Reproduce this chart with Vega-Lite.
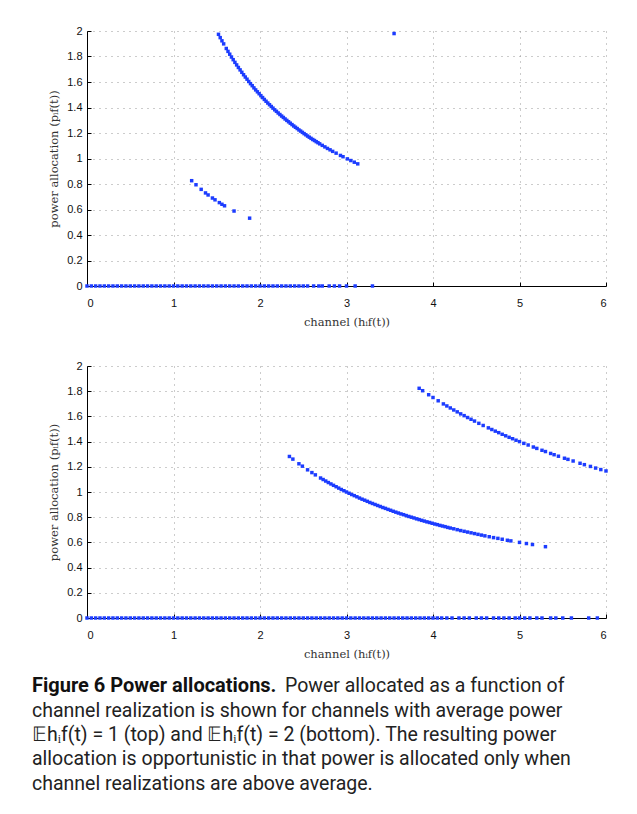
{
  "$schema": "https://vega.github.io/schema/vega-lite/v6.json",
  "description": "Power allocation as a function of channel realization, two panels with caption.",
  "padding": {"top": 25, "left": 32, "right": 5, "bottom": 5},
  "background": "white",
  "spacing": 14,
  "config": {
    "view": {"stroke": null},
    "axis": {
      "domainColor": "#000",
      "domainWidth": 1,
      "gridColor": "#999",
      "gridDash": [1, 5],
      "gridWidth": 1,
      "tickColor": "#000",
      "tickSize": -4,
      "labelFont": "Liberation Sans",
      "labelFontSize": 11,
      "labelColor": "#111",
      "titleFont": "DejaVu Serif",
      "titleFontSize": 11.5,
      "titleFontWeight": "normal",
      "titleColor": "#333"
    }
  },
  "datasets": {
    "points": [
      {"panel": "top", "h": 0, "p": 0}, {"panel": "top", "h": 0.05, "p": 0}, {"panel": "top", "h": 0.1, "p": 0}, {"panel": "top", "h": 0.15, "p": 0},
      {"panel": "top", "h": 0.2, "p": 0}, {"panel": "top", "h": 0.25, "p": 0}, {"panel": "top", "h": 0.3, "p": 0}, {"panel": "top", "h": 0.35, "p": 0},
      {"panel": "top", "h": 0.4, "p": 0}, {"panel": "top", "h": 0.45, "p": 0}, {"panel": "top", "h": 0.5, "p": 0}, {"panel": "top", "h": 0.55, "p": 0},
      {"panel": "top", "h": 0.6, "p": 0}, {"panel": "top", "h": 0.65, "p": 0}, {"panel": "top", "h": 0.7, "p": 0}, {"panel": "top", "h": 0.75, "p": 0},
      {"panel": "top", "h": 0.8, "p": 0}, {"panel": "top", "h": 0.85, "p": 0}, {"panel": "top", "h": 0.9, "p": 0}, {"panel": "top", "h": 0.95, "p": 0},
      {"panel": "top", "h": 1.0, "p": 0}, {"panel": "top", "h": 1.05, "p": 0}, {"panel": "top", "h": 1.1, "p": 0}, {"panel": "top", "h": 1.15, "p": 0},
      {"panel": "top", "h": 1.2, "p": 0}, {"panel": "top", "h": 1.25, "p": 0}, {"panel": "top", "h": 1.3, "p": 0}, {"panel": "top", "h": 1.35, "p": 0},
      {"panel": "top", "h": 1.4, "p": 0}, {"panel": "top", "h": 1.45, "p": 0}, {"panel": "top", "h": 1.5, "p": 0}, {"panel": "top", "h": 1.55, "p": 0},
      {"panel": "top", "h": 1.6, "p": 0}, {"panel": "top", "h": 1.65, "p": 0}, {"panel": "top", "h": 1.7, "p": 0}, {"panel": "top", "h": 1.75, "p": 0},
      {"panel": "top", "h": 1.8, "p": 0}, {"panel": "top", "h": 1.85, "p": 0}, {"panel": "top", "h": 1.9, "p": 0}, {"panel": "top", "h": 1.95, "p": 0},
      {"panel": "top", "h": 2.0, "p": 0}, {"panel": "top", "h": 2.05, "p": 0}, {"panel": "top", "h": 2.1, "p": 0}, {"panel": "top", "h": 2.15, "p": 0},
      {"panel": "top", "h": 2.2, "p": 0}, {"panel": "top", "h": 2.25, "p": 0}, {"panel": "top", "h": 2.3, "p": 0}, {"panel": "top", "h": 2.35, "p": 0},
      {"panel": "top", "h": 2.4, "p": 0}, {"panel": "top", "h": 2.45, "p": 0}, {"panel": "top", "h": 2.5, "p": 0}, {"panel": "top", "h": 2.55, "p": 0},
      {"panel": "top", "h": 2.62, "p": 0}, {"panel": "top", "h": 2.68, "p": 0}, {"panel": "top", "h": 2.72, "p": 0}, {"panel": "top", "h": 2.8, "p": 0},
      {"panel": "top", "h": 2.86, "p": 0}, {"panel": "top", "h": 2.92, "p": 0}, {"panel": "top", "h": 3.0, "p": 0}, {"panel": "top", "h": 3.1, "p": 0},
      {"panel": "top", "h": 3.3, "p": 0},
      {"panel": "top", "h": 1.52, "p": 1.974}, {"panel": "top", "h": 1.54, "p": 1.948}, {"panel": "top", "h": 1.56, "p": 1.923}, {"panel": "top", "h": 1.58, "p": 1.899},
      {"panel": "top", "h": 1.61, "p": 1.863}, {"panel": "top", "h": 1.63, "p": 1.840}, {"panel": "top", "h": 1.65, "p": 1.818}, {"panel": "top", "h": 1.67, "p": 1.796},
      {"panel": "top", "h": 1.69, "p": 1.775}, {"panel": "top", "h": 1.71, "p": 1.754}, {"panel": "top", "h": 1.73, "p": 1.734}, {"panel": "top", "h": 1.75, "p": 1.714},
      {"panel": "top", "h": 1.77, "p": 1.695}, {"panel": "top", "h": 1.79, "p": 1.676}, {"panel": "top", "h": 1.81, "p": 1.657}, {"panel": "top", "h": 1.83, "p": 1.639},
      {"panel": "top", "h": 1.85, "p": 1.622}, {"panel": "top", "h": 1.87, "p": 1.604}, {"panel": "top", "h": 1.89, "p": 1.587}, {"panel": "top", "h": 1.91, "p": 1.571},
      {"panel": "top", "h": 1.93, "p": 1.554}, {"panel": "top", "h": 1.95, "p": 1.538}, {"panel": "top", "h": 1.97, "p": 1.523}, {"panel": "top", "h": 1.99, "p": 1.508},
      {"panel": "top", "h": 2.01, "p": 1.493}, {"panel": "top", "h": 2.03, "p": 1.478}, {"panel": "top", "h": 2.05, "p": 1.463}, {"panel": "top", "h": 2.07, "p": 1.449},
      {"panel": "top", "h": 2.09, "p": 1.435}, {"panel": "top", "h": 2.11, "p": 1.422}, {"panel": "top", "h": 2.13, "p": 1.408}, {"panel": "top", "h": 2.15, "p": 1.395},
      {"panel": "top", "h": 2.17, "p": 1.382}, {"panel": "top", "h": 2.19, "p": 1.370}, {"panel": "top", "h": 2.21, "p": 1.357}, {"panel": "top", "h": 2.23, "p": 1.345},
      {"panel": "top", "h": 2.25, "p": 1.333}, {"panel": "top", "h": 2.27, "p": 1.322}, {"panel": "top", "h": 2.29, "p": 1.310}, {"panel": "top", "h": 2.31, "p": 1.299},
      {"panel": "top", "h": 2.33, "p": 1.288}, {"panel": "top", "h": 2.35, "p": 1.277}, {"panel": "top", "h": 2.37, "p": 1.266}, {"panel": "top", "h": 2.39, "p": 1.255},
      {"panel": "top", "h": 2.41, "p": 1.245}, {"panel": "top", "h": 2.43, "p": 1.235}, {"panel": "top", "h": 2.45, "p": 1.224}, {"panel": "top", "h": 2.47, "p": 1.215},
      {"panel": "top", "h": 2.49, "p": 1.205}, {"panel": "top", "h": 2.51, "p": 1.195}, {"panel": "top", "h": 2.53, "p": 1.186}, {"panel": "top", "h": 2.55, "p": 1.176},
      {"panel": "top", "h": 2.57, "p": 1.167}, {"panel": "top", "h": 2.59, "p": 1.158}, {"panel": "top", "h": 2.61, "p": 1.149}, {"panel": "top", "h": 2.63, "p": 1.141},
      {"panel": "top", "h": 2.65, "p": 1.132}, {"panel": "top", "h": 2.67, "p": 1.124}, {"panel": "top", "h": 2.69, "p": 1.115}, {"panel": "top", "h": 2.72, "p": 1.103},
      {"panel": "top", "h": 2.75, "p": 1.091}, {"panel": "top", "h": 2.78, "p": 1.079}, {"panel": "top", "h": 2.81, "p": 1.068}, {"panel": "top", "h": 2.84, "p": 1.056},
      {"panel": "top", "h": 2.88, "p": 1.042}, {"panel": "top", "h": 2.93, "p": 1.024}, {"panel": "top", "h": 2.96, "p": 1.014}, {"panel": "top", "h": 3.01, "p": 0.997},
      {"panel": "top", "h": 3.05, "p": 0.984}, {"panel": "top", "h": 3.09, "p": 0.971}, {"panel": "top", "h": 3.13, "p": 0.958},
      {"panel": "top", "h": 1.21, "p": 0.826}, {"panel": "top", "h": 1.26, "p": 0.794}, {"panel": "top", "h": 1.32, "p": 0.758}, {"panel": "top", "h": 1.37, "p": 0.730},
      {"panel": "top", "h": 1.40, "p": 0.714}, {"panel": "top", "h": 1.45, "p": 0.690}, {"panel": "top", "h": 1.48, "p": 0.676}, {"panel": "top", "h": 1.53, "p": 0.654},
      {"panel": "top", "h": 1.56, "p": 0.641}, {"panel": "top", "h": 1.59, "p": 0.629}, {"panel": "top", "h": 1.70, "p": 0.588}, {"panel": "top", "h": 1.88, "p": 0.532},
      {"panel": "top", "h": 3.55, "p": 1.98},

      {"panel": "bottom", "h": 0, "p": 0}, {"panel": "bottom", "h": 0.05, "p": 0}, {"panel": "bottom", "h": 0.1, "p": 0}, {"panel": "bottom", "h": 0.15, "p": 0},
      {"panel": "bottom", "h": 0.2, "p": 0}, {"panel": "bottom", "h": 0.25, "p": 0}, {"panel": "bottom", "h": 0.3, "p": 0}, {"panel": "bottom", "h": 0.35, "p": 0},
      {"panel": "bottom", "h": 0.4, "p": 0}, {"panel": "bottom", "h": 0.45, "p": 0}, {"panel": "bottom", "h": 0.5, "p": 0}, {"panel": "bottom", "h": 0.55, "p": 0},
      {"panel": "bottom", "h": 0.6, "p": 0}, {"panel": "bottom", "h": 0.65, "p": 0}, {"panel": "bottom", "h": 0.7, "p": 0}, {"panel": "bottom", "h": 0.75, "p": 0},
      {"panel": "bottom", "h": 0.8, "p": 0}, {"panel": "bottom", "h": 0.85, "p": 0}, {"panel": "bottom", "h": 0.9, "p": 0}, {"panel": "bottom", "h": 0.95, "p": 0},
      {"panel": "bottom", "h": 1.0, "p": 0}, {"panel": "bottom", "h": 1.05, "p": 0}, {"panel": "bottom", "h": 1.1, "p": 0}, {"panel": "bottom", "h": 1.15, "p": 0},
      {"panel": "bottom", "h": 1.2, "p": 0}, {"panel": "bottom", "h": 1.25, "p": 0}, {"panel": "bottom", "h": 1.3, "p": 0}, {"panel": "bottom", "h": 1.35, "p": 0},
      {"panel": "bottom", "h": 1.4, "p": 0}, {"panel": "bottom", "h": 1.45, "p": 0}, {"panel": "bottom", "h": 1.5, "p": 0}, {"panel": "bottom", "h": 1.55, "p": 0},
      {"panel": "bottom", "h": 1.6, "p": 0}, {"panel": "bottom", "h": 1.65, "p": 0}, {"panel": "bottom", "h": 1.7, "p": 0}, {"panel": "bottom", "h": 1.75, "p": 0},
      {"panel": "bottom", "h": 1.8, "p": 0}, {"panel": "bottom", "h": 1.85, "p": 0}, {"panel": "bottom", "h": 1.9, "p": 0}, {"panel": "bottom", "h": 1.95, "p": 0},
      {"panel": "bottom", "h": 2.0, "p": 0}, {"panel": "bottom", "h": 2.05, "p": 0}, {"panel": "bottom", "h": 2.1, "p": 0}, {"panel": "bottom", "h": 2.15, "p": 0},
      {"panel": "bottom", "h": 2.2, "p": 0}, {"panel": "bottom", "h": 2.25, "p": 0}, {"panel": "bottom", "h": 2.3, "p": 0}, {"panel": "bottom", "h": 2.35, "p": 0},
      {"panel": "bottom", "h": 2.4, "p": 0}, {"panel": "bottom", "h": 2.45, "p": 0}, {"panel": "bottom", "h": 2.5, "p": 0}, {"panel": "bottom", "h": 2.55, "p": 0},
      {"panel": "bottom", "h": 2.6, "p": 0}, {"panel": "bottom", "h": 2.65, "p": 0}, {"panel": "bottom", "h": 2.7, "p": 0}, {"panel": "bottom", "h": 2.75, "p": 0},
      {"panel": "bottom", "h": 2.8, "p": 0}, {"panel": "bottom", "h": 2.85, "p": 0}, {"panel": "bottom", "h": 2.9, "p": 0}, {"panel": "bottom", "h": 2.95, "p": 0},
      {"panel": "bottom", "h": 3.0, "p": 0}, {"panel": "bottom", "h": 3.05, "p": 0}, {"panel": "bottom", "h": 3.1, "p": 0}, {"panel": "bottom", "h": 3.15, "p": 0},
      {"panel": "bottom", "h": 3.2, "p": 0}, {"panel": "bottom", "h": 3.25, "p": 0}, {"panel": "bottom", "h": 3.3, "p": 0}, {"panel": "bottom", "h": 3.35, "p": 0},
      {"panel": "bottom", "h": 3.4, "p": 0}, {"panel": "bottom", "h": 3.45, "p": 0}, {"panel": "bottom", "h": 3.5, "p": 0}, {"panel": "bottom", "h": 3.55, "p": 0},
      {"panel": "bottom", "h": 3.6, "p": 0}, {"panel": "bottom", "h": 3.65, "p": 0}, {"panel": "bottom", "h": 3.7, "p": 0}, {"panel": "bottom", "h": 3.75, "p": 0},
      {"panel": "bottom", "h": 3.8, "p": 0}, {"panel": "bottom", "h": 3.85, "p": 0}, {"panel": "bottom", "h": 3.9, "p": 0}, {"panel": "bottom", "h": 3.95, "p": 0},
      {"panel": "bottom", "h": 4.0, "p": 0}, {"panel": "bottom", "h": 4.05, "p": 0}, {"panel": "bottom", "h": 4.1, "p": 0}, {"panel": "bottom", "h": 4.16, "p": 0},
      {"panel": "bottom", "h": 4.22, "p": 0}, {"panel": "bottom", "h": 4.3, "p": 0}, {"panel": "bottom", "h": 4.36, "p": 0}, {"panel": "bottom", "h": 4.42, "p": 0},
      {"panel": "bottom", "h": 4.5, "p": 0}, {"panel": "bottom", "h": 4.56, "p": 0}, {"panel": "bottom", "h": 4.62, "p": 0}, {"panel": "bottom", "h": 4.7, "p": 0},
      {"panel": "bottom", "h": 4.76, "p": 0}, {"panel": "bottom", "h": 4.82, "p": 0}, {"panel": "bottom", "h": 4.88, "p": 0}, {"panel": "bottom", "h": 4.95, "p": 0},
      {"panel": "bottom", "h": 5.0, "p": 0}, {"panel": "bottom", "h": 5.06, "p": 0}, {"panel": "bottom", "h": 5.12, "p": 0}, {"panel": "bottom", "h": 5.2, "p": 0},
      {"panel": "bottom", "h": 5.26, "p": 0}, {"panel": "bottom", "h": 5.36, "p": 0}, {"panel": "bottom", "h": 5.42, "p": 0}, {"panel": "bottom", "h": 5.5, "p": 0},
      {"panel": "bottom", "h": 5.6, "p": 0}, {"panel": "bottom", "h": 5.8, "p": 0}, {"panel": "bottom", "h": 5.9, "p": 0},
      {"panel": "bottom", "h": 2.34, "p": 1.282}, {"panel": "bottom", "h": 2.38, "p": 1.261}, {"panel": "bottom", "h": 2.45, "p": 1.224}, {"panel": "bottom", "h": 2.49, "p": 1.205},
      {"panel": "bottom", "h": 2.55, "p": 1.176}, {"panel": "bottom", "h": 2.6, "p": 1.154}, {"panel": "bottom", "h": 2.64, "p": 1.136}, {"panel": "bottom", "h": 2.7, "p": 1.111},
      {"panel": "bottom", "h": 2.73, "p": 1.099}, {"panel": "bottom", "h": 2.76, "p": 1.087}, {"panel": "bottom", "h": 2.79, "p": 1.075}, {"panel": "bottom", "h": 2.82, "p": 1.064},
      {"panel": "bottom", "h": 2.85, "p": 1.053}, {"panel": "bottom", "h": 2.88, "p": 1.042}, {"panel": "bottom", "h": 2.91, "p": 1.031}, {"panel": "bottom", "h": 2.94, "p": 1.020},
      {"panel": "bottom", "h": 2.97, "p": 1.010}, {"panel": "bottom", "h": 3.0, "p": 1.000}, {"panel": "bottom", "h": 3.03, "p": 0.990}, {"panel": "bottom", "h": 3.06, "p": 0.980},
      {"panel": "bottom", "h": 3.09, "p": 0.971}, {"panel": "bottom", "h": 3.12, "p": 0.962}, {"panel": "bottom", "h": 3.15, "p": 0.952}, {"panel": "bottom", "h": 3.18, "p": 0.943},
      {"panel": "bottom", "h": 3.21, "p": 0.935}, {"panel": "bottom", "h": 3.24, "p": 0.926}, {"panel": "bottom", "h": 3.27, "p": 0.917}, {"panel": "bottom", "h": 3.3, "p": 0.909},
      {"panel": "bottom", "h": 3.33, "p": 0.901}, {"panel": "bottom", "h": 3.36, "p": 0.893}, {"panel": "bottom", "h": 3.39, "p": 0.885}, {"panel": "bottom", "h": 3.42, "p": 0.877},
      {"panel": "bottom", "h": 3.45, "p": 0.870}, {"panel": "bottom", "h": 3.48, "p": 0.862}, {"panel": "bottom", "h": 3.51, "p": 0.855}, {"panel": "bottom", "h": 3.54, "p": 0.847},
      {"panel": "bottom", "h": 3.57, "p": 0.840}, {"panel": "bottom", "h": 3.6, "p": 0.833}, {"panel": "bottom", "h": 3.63, "p": 0.826}, {"panel": "bottom", "h": 3.66, "p": 0.820},
      {"panel": "bottom", "h": 3.69, "p": 0.813}, {"panel": "bottom", "h": 3.72, "p": 0.806}, {"panel": "bottom", "h": 3.75, "p": 0.800}, {"panel": "bottom", "h": 3.78, "p": 0.794},
      {"panel": "bottom", "h": 3.81, "p": 0.787}, {"panel": "bottom", "h": 3.84, "p": 0.781}, {"panel": "bottom", "h": 3.87, "p": 0.775}, {"panel": "bottom", "h": 3.9, "p": 0.769},
      {"panel": "bottom", "h": 3.93, "p": 0.763}, {"panel": "bottom", "h": 3.96, "p": 0.758}, {"panel": "bottom", "h": 3.99, "p": 0.752}, {"panel": "bottom", "h": 4.02, "p": 0.746},
      {"panel": "bottom", "h": 4.05, "p": 0.741}, {"panel": "bottom", "h": 4.08, "p": 0.735}, {"panel": "bottom", "h": 4.11, "p": 0.730}, {"panel": "bottom", "h": 4.14, "p": 0.725},
      {"panel": "bottom", "h": 4.17, "p": 0.719}, {"panel": "bottom", "h": 4.2, "p": 0.714}, {"panel": "bottom", "h": 4.24, "p": 0.708}, {"panel": "bottom", "h": 4.28, "p": 0.701},
      {"panel": "bottom", "h": 4.32, "p": 0.694}, {"panel": "bottom", "h": 4.36, "p": 0.688}, {"panel": "bottom", "h": 4.4, "p": 0.682}, {"panel": "bottom", "h": 4.44, "p": 0.676},
      {"panel": "bottom", "h": 4.48, "p": 0.670}, {"panel": "bottom", "h": 4.52, "p": 0.664}, {"panel": "bottom", "h": 4.56, "p": 0.658}, {"panel": "bottom", "h": 4.6, "p": 0.652},
      {"panel": "bottom", "h": 4.65, "p": 0.645}, {"panel": "bottom", "h": 4.7, "p": 0.638}, {"panel": "bottom", "h": 4.75, "p": 0.632}, {"panel": "bottom", "h": 4.8, "p": 0.625},
      {"panel": "bottom", "h": 4.86, "p": 0.617}, {"panel": "bottom", "h": 4.9, "p": 0.612}, {"panel": "bottom", "h": 5.0, "p": 0.600}, {"panel": "bottom", "h": 5.08, "p": 0.591},
      {"panel": "bottom", "h": 5.15, "p": 0.583}, {"panel": "bottom", "h": 5.3, "p": 0.566},
      {"panel": "bottom", "h": 3.84, "p": 1.823}, {"panel": "bottom", "h": 3.88, "p": 1.804}, {"panel": "bottom", "h": 3.95, "p": 1.772}, {"panel": "bottom", "h": 4.0, "p": 1.750},
      {"panel": "bottom", "h": 4.06, "p": 1.724}, {"panel": "bottom", "h": 4.12, "p": 1.699}, {"panel": "bottom", "h": 4.16, "p": 1.683}, {"panel": "bottom", "h": 4.2, "p": 1.667},
      {"panel": "bottom", "h": 4.24, "p": 1.651}, {"panel": "bottom", "h": 4.28, "p": 1.636}, {"panel": "bottom", "h": 4.32, "p": 1.620}, {"panel": "bottom", "h": 4.36, "p": 1.606},
      {"panel": "bottom", "h": 4.4, "p": 1.591}, {"panel": "bottom", "h": 4.44, "p": 1.577}, {"panel": "bottom", "h": 4.48, "p": 1.563}, {"panel": "bottom", "h": 4.53, "p": 1.545},
      {"panel": "bottom", "h": 4.58, "p": 1.528}, {"panel": "bottom", "h": 4.64, "p": 1.509}, {"panel": "bottom", "h": 4.68, "p": 1.496}, {"panel": "bottom", "h": 4.72, "p": 1.483},
      {"panel": "bottom", "h": 4.76, "p": 1.471}, {"panel": "bottom", "h": 4.8, "p": 1.458}, {"panel": "bottom", "h": 4.84, "p": 1.446}, {"panel": "bottom", "h": 4.88, "p": 1.434},
      {"panel": "bottom", "h": 4.92, "p": 1.423}, {"panel": "bottom", "h": 4.96, "p": 1.411}, {"panel": "bottom", "h": 5.0, "p": 1.400}, {"panel": "bottom", "h": 5.05, "p": 1.386},
      {"panel": "bottom", "h": 5.1, "p": 1.373}, {"panel": "bottom", "h": 5.16, "p": 1.357}, {"panel": "bottom", "h": 5.2, "p": 1.346}, {"panel": "bottom", "h": 5.26, "p": 1.331},
      {"panel": "bottom", "h": 5.3, "p": 1.321}, {"panel": "bottom", "h": 5.36, "p": 1.306}, {"panel": "bottom", "h": 5.4, "p": 1.296}, {"panel": "bottom", "h": 5.45, "p": 1.284},
      {"panel": "bottom", "h": 5.52, "p": 1.268}, {"panel": "bottom", "h": 5.56, "p": 1.259}, {"panel": "bottom", "h": 5.62, "p": 1.246}, {"panel": "bottom", "h": 5.7, "p": 1.228},
      {"panel": "bottom", "h": 5.75, "p": 1.217}, {"panel": "bottom", "h": 5.82, "p": 1.203}, {"panel": "bottom", "h": 5.88, "p": 1.190}, {"panel": "bottom", "h": 5.94, "p": 1.178},
      {"panel": "bottom", "h": 6.0, "p": 1.167}
    ],
    "caption": [
      {"line": 1, "style": "bold", "text": "Figure 6 Power allocations."},
      {"line": 1, "style": "cont", "text": "Power allocated as a function of"},
      {"line": 2, "style": "normal", "text": "channel realization is shown for channels with average power"},
      {"line": 3, "style": "normal", "text": "𝔼hᵢf(t) = 1 (top) and 𝔼hᵢf(t) = 2 (bottom). The resulting power"},
      {"line": 4, "style": "normal", "text": "allocation is opportunistic in that power is allocated only when"},
      {"line": 5, "style": "normal", "text": "channel realizations are above average."}
    ]
  },
  "vconcat": [
    {
      "spacing": 32,
      "vconcat": [
        {
          "width": 519,
          "height": 255,
          "data": {"name": "points"},
          "transform": [{"filter": "datum.panel === 'top'"}],
          "mark": {"type": "point", "shape": "square", "filled": true, "size": 12, "opacity": 1, "clip": false},
          "encoding": {
            "x": {
              "field": "h", "type": "quantitative",
              "scale": {"domain": [0, 6], "nice": false},
              "axis": {"values": [0, 1, 2, 3, 4, 5, 6], "title": "channel (hᵢf(t))", "labelPadding": 15, "titlePadding": 8}
            },
            "y": {
              "field": "p", "type": "quantitative",
              "scale": {"domain": [0, 2], "nice": false},
              "axis": {"values": [0, 0.2, 0.4, 0.6, 0.8, 1, 1.2, 1.4, 1.6, 1.8, 2], "format": "~g", "title": "power allocation (pᵢf(t))", "labelPadding": 9, "titlePadding": 7}
            },
            "color": {"value": "#1c3cff"}
          }
        },
        {
          "width": 519,
          "height": 252,
          "data": {"name": "points"},
          "transform": [{"filter": "datum.panel === 'bottom'"}],
          "mark": {"type": "point", "shape": "square", "filled": true, "size": 12, "opacity": 1, "clip": false},
          "encoding": {
            "x": {
              "field": "h", "type": "quantitative",
              "scale": {"domain": [0, 6], "nice": false},
              "axis": {"values": [0, 1, 2, 3, 4, 5, 6], "title": "channel (hᵢf(t))", "labelPadding": 15, "titlePadding": 8}
            },
            "y": {
              "field": "p", "type": "quantitative",
              "scale": {"domain": [0, 2], "nice": false},
              "axis": {"values": [0, 0.2, 0.4, 0.6, 0.8, 1, 1.2, 1.4, 1.6, 1.8, 2], "format": "~g", "title": "power allocation (pᵢf(t))", "labelPadding": 9, "titlePadding": 7}
            },
            "color": {"value": "#1c3cff"}
          }
        }
      ]
    },
    {
      "width": 519,
      "height": 122,
      "data": {"name": "caption"},
      "encoding": {
        "y": {"field": "line", "type": "ordinal", "axis": null, "scale": {"padding": 0.5}},
        "x": {"datum": 0, "type": "quantitative", "axis": null, "scale": {"domain": [0, 1]}},
        "text": {"field": "text"}
      },
      "layer": [
        {
          "transform": [{"filter": "datum.style === 'bold'"}],
          "mark": {"type": "text", "align": "left", "baseline": "middle", "font": "Roboto", "fontSize": 20, "fontWeight": "bold", "color": "#111", "dx": -55}
        },
        {
          "transform": [{"filter": "datum.style === 'cont'"}],
          "mark": {"type": "text", "align": "left", "baseline": "middle", "font": "Roboto", "fontSize": 19.5, "color": "#222", "dx": 198}
        },
        {
          "transform": [{"filter": "datum.style === 'normal'"}],
          "mark": {"type": "text", "align": "left", "baseline": "middle", "font": "Roboto", "fontSize": 19.5, "color": "#222", "dx": -55}
        }
      ]
    }
  ]
}
